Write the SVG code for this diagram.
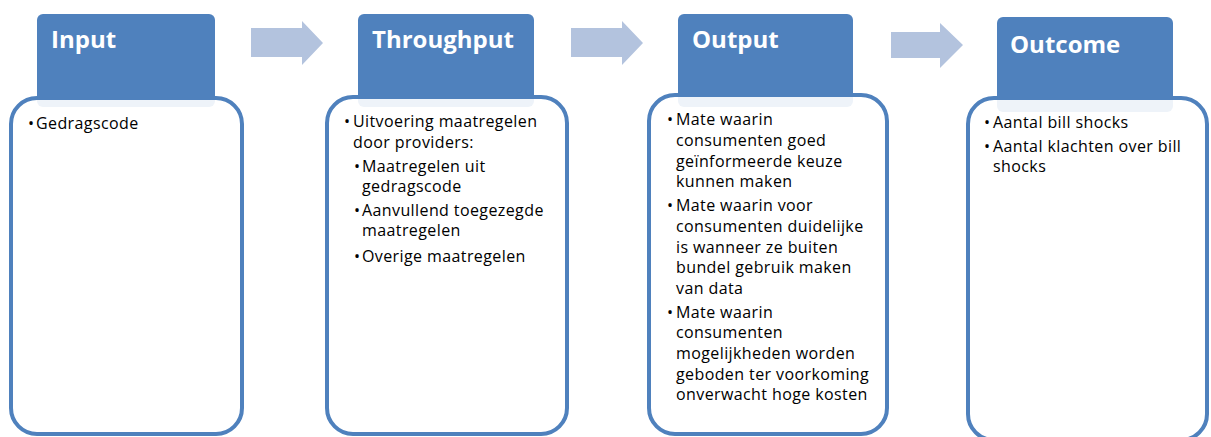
<svg xmlns="http://www.w3.org/2000/svg" width="1211" height="437" viewBox="0 0 1211 437">
<style>
.hdr{fill:#4F81BD}
.box{fill:#FFFFFF;fill-opacity:0.9;stroke:#4F81BD;stroke-width:4}
.arr{fill:#B3C3DE}
.ttl{font-family:"Open Sans","Noto Sans",sans-serif;font-weight:bold;font-size:24px;fill:#FFFFFF}
.txt{font-family:"Open Sans","Noto Sans",sans-serif;font-size:16px;letter-spacing:0.4px;fill:#000000}
</style>
<rect width="1211" height="437" fill="#FFFFFF"/>
<g id="connectors">
<polygon class="arr" points="251,28 302,28 302,21 323,43 302,65 302,57 251,57"/>
<polygon class="arr" points="571,28 622,28 622,21 643,43 622,65 622,57 571,57"/>
<polygon class="arr" points="891,32 940,32 940,23 963,45 940,68 940,58 891,58"/>
</g>
<g id="input">
<rect class="hdr" x="37" y="14" width="178" height="93" rx="6"/>
<rect class="box" x="11" y="98" width="231" height="336" rx="26"/>
<text class="ttl" x="51" y="48">Input</text>
<text class="txt" x="28" y="129">•</text><text class="txt" x="36" y="129">Gedragscode</text>
</g>
<g id="throughput">
<rect class="hdr" x="358" y="14" width="176" height="93" rx="6"/>
<rect class="box" x="327" y="97" width="240" height="337" rx="26"/>
<text class="ttl" x="372" y="48">Throughput</text>
<text class="txt" x="344" y="127">•</text><text class="txt" x="353" y="127">Uitvoering maatregelen</text>
<text class="txt" x="353" y="148">door providers:</text>
<text class="txt" x="354" y="172">•</text><text class="txt" x="362" y="172">Maatregelen uit</text>
<text class="txt" x="362" y="192">gedragscode</text>
<text class="txt" x="354" y="216">•</text><text class="txt" x="362" y="216">Aanvullend toegezegde</text>
<text class="txt" x="362" y="236">maatregelen</text>
<text class="txt" x="354" y="262">•</text><text class="txt" x="362" y="262">Overige maatregelen</text>
</g>
<g id="output">
<rect class="hdr" x="678" y="14" width="175" height="93" rx="6"/>
<rect class="box" x="649" y="95" width="238" height="339" rx="26"/>
<text class="ttl" x="692" y="48">Output</text>
<text class="txt" x="667" y="125">•</text><text class="txt" x="676" y="125">Mate waarin</text>
<text class="txt" x="676" y="146">consumenten goed</text>
<text class="txt" x="676" y="167">geïnformeerde keuze</text>
<text class="txt" x="676" y="187">kunnen maken</text>
<text class="txt" x="667" y="211">•</text><text class="txt" x="676" y="211">Mate waarin voor</text>
<text class="txt" x="676" y="232">consumenten duidelijke</text>
<text class="txt" x="676" y="253">is wanneer ze buiten</text>
<text class="txt" x="676" y="273">bundel gebruik maken</text>
<text class="txt" x="676" y="294">van data</text>
<text class="txt" x="667" y="318">•</text><text class="txt" x="676" y="318">Mate waarin</text>
<text class="txt" x="676" y="338">consumenten</text>
<text class="txt" x="676" y="359">mogelijkheden worden</text>
<text class="txt" x="676" y="380">geboden ter voorkoming</text>
<text class="txt" x="676" y="400">onverwacht hoge kosten</text>
</g>
<g id="outcome">
<rect class="hdr" x="997" y="17" width="176" height="95" rx="6"/>
<rect class="box" x="968" y="98" width="239" height="342" rx="26"/>
<text class="ttl" x="1010" y="53">Outcome</text>
<text class="txt" x="984" y="128">•</text><text class="txt" x="993" y="128">Aantal bill shocks</text>
<text class="txt" x="984" y="152">•</text><text class="txt" x="993" y="152">Aantal klachten over bill</text>
<text class="txt" x="993" y="172">shocks</text>
</g>
</svg>
